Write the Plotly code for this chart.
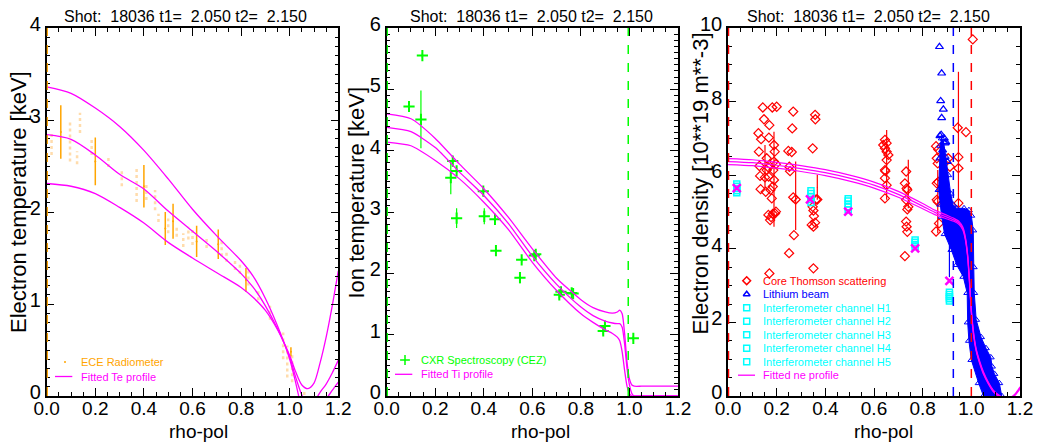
import plotly.graph_objects as go

# ------------------------------------------------------------------ data
TITLE_TEXT = "Shot:  18036 t1=  2.050 t2=  2.150"
X_TITLE = "rho-pol"
Y_TITLES = ["Electron temperature [keV]", "Ion temperature [keV]",
            "Electron density [10**19 m**-3]"]
X_TICKS = [0.0, 0.2, 0.4, 0.6, 0.8, 1.0, 1.2]
X_TICK_LABELS = ["0.0", "0.2", "0.4", "0.6", "0.8", "1.0", "1.2"]
Y1_TICKS = [0, 1, 2, 3, 4]
Y2_TICKS = [0, 1, 2, 3, 4, 5, 6]
Y3_TICKS = [0, 2, 4, 6, 8, 10]

# --- Panel 1 : electron temperature (ECE)
te_rho = [0.0, 0.1, 0.2, 0.3, 0.4, 0.5, 0.6, 0.7, 0.8, 0.85, 0.9, 0.95, 1.0,
          1.025, 1.05, 1.075, 1.1, 1.125, 1.15, 1.175, 1.2]
te_upper = [3.36, 3.29, 3.13, 2.93, 2.67, 2.36, 2.03, 1.74, 1.47, 1.30, 1.06, 0.76, 0.40,
            0.14, -0.15, -0.36, -0.44, -0.32, -0.04, 0.06, 0.15]
te_fit = [2.84, 2.79, 2.62, 2.41, 2.25, 2.01, 1.79, 1.57, 1.33, 1.18, 0.98, 0.73, 0.42,
          0.20, 0.01, -0.10, -0.06, 0.04, 0.13, 0.25, 0.39]
te_lower = [2.31, 2.28, 2.20, 2.05, 1.88, 1.67, 1.50, 1.34, 1.18, 1.07, 0.93, 0.72, 0.44,
            0.26, 0.12, 0.08, 0.14, 0.36, 0.64, 0.98, 1.36]

ece_rho = [0.058, 0.20, 0.40, 0.488, 0.52, 0.617, 0.706, 0.82, 1.005]
ece_te = [2.87, 2.55, 2.28, 1.82, 1.90, 1.68, 1.65, 1.26, 0.48]
ece_err = [0.29, 0.26, 0.23, 0.18, 0.19, 0.17, 0.16, 0.13, 0.05]

ece_cloud_rho = [0.02, 0.096, 0.125, 0.137, 0.185, 0.254, 0.309, 0.37, 0.41, 0.446, 0.46,
                 0.50, 0.535, 0.562, 0.583, 0.60, 0.658, 0.72, 0.74, 0.775, 0.795, 0.83,
                 0.871, 0.919, 0.973, 0.99, 1.01, 1.06]
ece_cloud_lo = [2.62, 2.55, 2.52, 2.86, 2.62, 2.49, 2.28, 2.11, 2.13, 2.02, 1.89,
                1.77, 1.73, 1.62, 1.70, 1.64, 1.61, 1.52, 1.46, 1.37, 1.33, 1.20,
                1.04, 0.83, 0.40, 0.20, 0.15, 0.01]
ece_cloud_hi = [2.88, 3.00, 2.66, 3.08, 2.80, 2.62, 2.46, 2.48, 2.31, 2.24, 1.98,
                1.93, 1.84, 1.77, 1.84, 1.81, 1.72, 1.70, 1.57, 1.50, 1.43, 1.39,
                1.15, 0.98, 0.69, 0.55, 0.45, 0.06]
ece_sep = [0.0]

# --- Panel 2 : ion temperature (CEZ)
ti_rho = [0.0, 0.1, 0.2, 0.3, 0.4, 0.5, 0.6, 0.7, 0.8, 0.85, 0.9, 0.93, 0.95, 0.96,
          0.97, 0.98, 0.99, 1.0, 1.01, 1.02, 1.05, 1.1, 1.2]
ti_upper = [4.60, 4.52, 4.20, 3.78, 3.38, 2.92, 2.40, 1.92, 1.57, 1.44, 1.37, 1.35, 1.37,
            1.40, 1.34, 1.02, 0.55, 0.28, 0.18, 0.16, 0.16, 0.16, 0.16]
ti_fit = [4.38, 4.31, 4.05, 3.65, 3.27, 2.82, 2.28, 1.82, 1.45, 1.31, 1.22, 1.19, 1.18,
          1.18, 1.12, 0.85, 0.45, 0.18, 0.04, 0.0, 0.0, 0.0, 0.0]
ti_lower = [4.14, 4.08, 3.84, 3.54, 3.16, 2.72, 2.18, 1.72, 1.34, 1.20, 1.08, 1.02, 0.96,
            0.90, 0.72, 0.42, 0.16, 0.04, 0.0, 0.0, 0.0, 0.0, 0.0]

cez_rho = [0.092, 0.147, 0.141, 0.272, 0.264, 0.288, 0.288, 0.398, 0.402, 0.446, 0.450,
           0.556, 0.549, 0.608, 0.614, 0.711, 0.718, 0.762, 0.768, 0.899, 0.892, 1.016]
cez_ti = [4.72, 5.55, 4.51, 3.83, 3.56, 3.67, 2.90, 3.34, 2.93, 2.88, 2.37,
          2.22, 1.93, 2.29, 2.31, 1.65, 1.70, 1.68, 1.67, 1.14, 1.06, 0.94]
cez_err = [0.04, 0.04, 0.47, 0.05, 0.27, 0.04, 0.16, 0.04, 0.13, 0.03, 0.03,
           0.04, 0.09, 0.05, 0.05, 0.06, 0.04, 0.05, 0.04, 0.05, 0.06, 0.04]
cez_sep = [0.0, 0.995]

# --- Panel 3 : electron density
ne_rho = [0.0, 0.1, 0.2, 0.3, 0.4, 0.5, 0.6, 0.7, 0.8, 0.85, 0.9, 0.93, 0.95, 0.965,
          0.975, 0.985, 0.993, 1.0, 1.01, 1.02, 1.035, 1.05, 1.07, 1.09, 1.11, 1.13,
          1.15, 1.17, 1.185, 1.2]
ne_upper = [6.45, 6.42, 6.35, 6.26, 6.15, 6.00, 5.81, 5.56, 5.23, 5.05, 4.91, 4.82, 4.74,
            4.59, 4.34, 3.84, 3.09, 2.34, 1.69, 1.28, 0.93, 0.65, 0.37, 0.16, 0.04, -0.04,
            -0.06, 0.0, 0.10, 0.25]
ne_fit = [6.37, 6.34, 6.27, 6.18, 6.07, 5.92, 5.73, 5.48, 5.16, 4.99, 4.86, 4.78, 4.70,
          4.55, 4.30, 3.80, 3.05, 2.30, 1.65, 1.25, 0.90, 0.62, 0.35, 0.14, 0.02, -0.06,
          -0.08, -0.02, 0.08, 0.22]
ne_lower = [6.29, 6.26, 6.19, 6.10, 5.99, 5.84, 5.65, 5.40, 5.09, 4.93, 4.81, 4.74, 4.66,
            4.51, 4.26, 3.76, 3.01, 2.26, 1.61, 1.22, 0.87, 0.59, 0.33, 0.12, 0.0, -0.08,
            -0.10, -0.04, 0.06, 0.19]

ts_rho = [0.125, 0.136, 0.143, 0.148, 0.127, 0.129, 0.132, 0.134, 0.155, 0.159, 0.166,
          0.167, 0.168, 0.170, 0.166, 0.173, 0.170, 0.182, 0.200, 0.175, 0.180, 0.184,
          0.186, 0.189, 0.192, 0.189, 0.193, 0.184, 0.177, 0.189, 0.197, 0.159, 0.152,
          0.197,
          0.248, 0.262, 0.252, 0.255, 0.268, 0.264, 0.268, 0.278, 0.271, 0.251,
          0.348, 0.358, 0.359, 0.348, 0.351, 0.353, 0.344, 0.351, 0.358, 0.362, 0.367,
          0.351,
          0.638, 0.645, 0.652, 0.645, 0.652, 0.659, 0.652, 0.645, 0.647, 0.645, 0.652,
          0.645,
          0.732, 0.727, 0.734, 0.737, 0.732, 0.741, 0.737, 0.732, 0.734, 0.737, 0.727,
          0.855, 0.864, 0.858, 0.862, 0.864, 0.858, 0.862, 0.855, 0.867, 0.858,
          0.905, 0.912, 0.944, 0.947, 0.947, 0.947, 0.978, 1.006]
ts_ne = [7.14, 6.98, 7.84, 7.52, 6.64, 6.25, 5.98, 5.62, 5.55, 6.46, 6.21,
         5.96, 7.02, 7.36, 4.92, 4.78, 3.33, 7.84, 7.86, 5.60, 5.37, 5.69,
         6.14, 5.87, 6.64, 6.82, 4.96, 4.95, 4.86, 6.37, 6.30, 6.14, 5.94,
         5.01,
         6.66, 6.63, 6.23, 6.11, 7.73, 7.27, 5.40, 5.34, 4.37, 3.88,
         6.73, 7.64, 7.52, 5.14, 5.04, 4.89, 4.65, 4.60, 4.71, 5.34, 5.34,
         3.47,
         6.82, 6.96, 6.87, 6.73, 6.64, 6.55, 6.41, 6.14, 6.11, 5.92, 5.73,
         5.37,
         6.10, 5.78, 5.64, 5.60, 5.33, 5.14, 5.07, 4.74, 4.60, 4.46, 3.80,
         6.79, 6.70, 6.46, 6.32, 5.82, 5.33, 5.28, 4.47, 4.69, 5.78,
         6.46, 6.23, 7.29, 6.49, 6.19, 5.24, 7.17, 9.69]
ts_bar_rho = [0.152, 0.189, 0.278, 0.367, 0.652, 0.741, 0.862, 0.947]
ts_bar_ne = [6.24, 5.89, 5.44, 5.67, 6.28, 5.76, 5.28, 6.21]
ts_bar_err = [0.58, 1.29, 0.93, 0.34, 0.95, 0.66, 0.86, 2.60]

li_rho = [0.869, 0.878, 0.874, 0.885, 0.878, 0.871, 0.876, 0.882, 0.892, 0.871, 0.901,
          0.889, 0.895]
li_ne = [9.49, 8.77, 8.02, 7.79, 7.56, 7.07, 7.10, 6.68, 6.87, 6.46, 6.37, 7.00, 6.90]
li_top_rho = [0.866, 0.872, 0.878, 0.886, 0.895, 0.905, 0.915, 0.925, 0.94, 0.97, 0.99,
              1.0, 1.008, 1.01, 1.012, 1.02, 1.04, 1.06, 1.08, 1.085, 1.095, 1.115, 1.125]
li_top_ne = [5.6, 6.8, 7.0, 6.9, 6.5, 6.0, 5.5, 5.2, 5.1, 5.1, 5.05,
             4.9, 4.5, 3.5, 2.8, 2.07, 1.6, 1.3, 1.05, 0.8, 0.6, 0.35, 0.0]
li_bot_rho = [0.866, 0.872, 0.878, 0.89, 0.918, 0.94, 0.967, 0.983, 0.985, 0.99, 1.0,
              1.03, 1.05]
li_bot_ne = [5.6, 5.2, 4.87, 4.4, 3.97, 3.56, 3.24, 2.8, 2.0, 1.5, 0.98, 0.35, 0.0]
li_bar_rho = [0.91]
li_bar_ne = [3.69]
li_bar_err = [0.46]

ifr_names = ["Interferometer channel H1", "Interferometer channel H2",
             "Interferometer channel H3", "Interferometer channel H4",
             "Interferometer channel H5"]
ifr_rho = [0.036, 0.341, 0.494, 0.769, 0.910]
ifr_ne = [[5.52, 5.58, 5.64, 5.70, 5.76],
          [5.26, 5.34, 5.42, 5.50, 5.58],
          [5.06, 5.14, 5.22, 5.30, 5.36],
          [4.06, 4.12, 4.18, 4.24],
          [2.58, 2.64, 2.70, 2.76, 2.82]]
ifr_x_rho = [0.036, 0.337, 0.494, 0.769, 0.910]
ifr_x_ne = [5.65, 5.34, 5.01, 4.01, 3.13]
ne_sep_red = [0.0, 1.0]
ne_sep_blue = [0.926]

# ------------------------------------------------------------------ style / layout
FONT = "Liberation Sans, Arial, Helvetica, sans-serif"
MAGENTA, ORANGE, GREEN = "#ff00ff", "#ffa500", "#00ff00"
RED, BLUE, CYAN = "#ff0000", "#0000ff", "#00ffff"
W, H = 1038, 444
PANEL_X = [(46.7, 338.3), (386.7, 678.0), (728.0, 1020.0)]   # pixel box of each panel
PANEL_Y = (28.0, 396.0)


def nb(s):
    return s.replace("  ", " \u00a0")


fig = go.Figure()


def ax(p):
    return ("x" if p == 1 else f"x{p}"), ("y" if p == 1 else f"y{p}")


def add(p, **kw):
    xa, ya = ax(p)
    fig.add_trace(go.Scatter(xaxis=xa, yaxis=ya, showlegend=False, hoverinfo="skip", **kw))


def segs(xs, lo, hi):
    X, Y = [], []
    for x, a, b in zip(xs, lo, hi):
        X += [x, x, None]
        Y += [a, b, None]
    return X, Y


# Panel 1
cx, cy = segs(ece_cloud_rho, ece_cloud_lo, ece_cloud_hi)
add(1, x=cx, y=cy, mode="lines", line=dict(color="rgba(255,185,90,0.5)", width=2.5, dash="dot"))
add(1, x=ece_rho, y=ece_te, mode="markers", marker=dict(size=2, color=ORANGE),
    error_y=dict(type="data", array=ece_err, color=ORANGE, thickness=1.5, width=0))
for curve in (te_upper, te_fit, te_lower):
    add(1, x=te_rho, y=curve, mode="lines", line=dict(color=MAGENTA, width=1.3, shape="spline", smoothing=0.8))

# Panel 2
add(2, x=cez_rho, y=cez_ti, mode="markers",
    marker=dict(symbol="cross-thin", size=8, line=dict(color=GREEN, width=2), color=GREEN),
    error_y=dict(type="data", array=cez_err, color=GREEN, thickness=1.2, width=0))
for curve in (ti_upper, ti_fit, ti_lower):
    add(2, x=ti_rho, y=curve, mode="lines", line=dict(color=MAGENTA, width=1.3, shape="spline", smoothing=0.6))

# Panel 3
add(3, x=ts_bar_rho, y=ts_bar_ne, mode="markers", marker=dict(size=1, color=RED),
    error_y=dict(type="data", array=ts_bar_err, color=RED, thickness=1.2, width=0))
add(3, x=ts_rho, y=ts_ne, mode="markers",
    marker=dict(symbol="diamond-open", size=7, color=RED, line=dict(width=1.2)))
add(3, x=li_top_rho + li_bot_rho[::-1], y=li_top_ne + li_bot_ne[::-1], mode="lines+markers",
    fill="toself", fillcolor=BLUE, line=dict(color=BLUE, width=1),
    marker=dict(symbol="triangle-up-open", size=6, color=BLUE))
add(3, x=li_rho, y=li_ne, mode="markers",
    marker=dict(symbol="triangle-up-open", size=7, color=BLUE, line=dict(width=1.2)))
add(3, x=li_bar_rho, y=li_bar_ne, mode="markers", marker=dict(size=1, color=BLUE),
    error_y=dict(type="data", array=li_bar_err, color=BLUE, thickness=1.2, width=0))
for r, vals in zip(ifr_rho, ifr_ne):
    add(3, x=[r] * len(vals), y=vals, mode="markers",
        marker=dict(symbol="square-open", size=6, color=CYAN, line=dict(width=1.5)))
for curve in (ne_upper, ne_fit, ne_lower):
    add(3, x=ne_rho, y=curve, mode="lines", line=dict(color=MAGENTA, width=1.2, shape="spline", smoothing=0.6))
add(3, x=ifr_x_rho, y=ifr_x_ne, mode="markers",
    marker=dict(symbol="x-thin", size=8, line=dict(color=MAGENTA, width=2.5), color=MAGENTA))

# vertical dashed marker lines
shapes = []
for p, xs, col, ymax in [(1, ece_sep, ORANGE, 4), (2, cez_sep, GREEN, 6),
                         (3, ne_sep_red, RED, 10), (3, ne_sep_blue, BLUE, 10)]:
    xa, ya = ax(p)
    for xv in xs:
        shapes.append(dict(type="line", xref=xa, yref=ya, x0=xv, x1=xv, y0=0, y1=ymax,
                           line=dict(color=col, width=1.5 if xv > 0 else 2.5, dash="dash"),
                           layer="above"))

# ------------------------------------------------------------------ axes
common = dict(showline=True, linecolor="black", linewidth=1.5, mirror="allticks",
              ticks="inside", ticklen=8, tickwidth=1, tickcolor="black",
              showgrid=False, zeroline=False, automargin=False, fixedrange=True,
              tickfont=dict(family=FONT, size=20, color="black"))
y_specs = [([0, 4], Y1_TICKS, 0.1), ([0, 6], Y2_TICKS, 0.1), ([0, 10], Y3_TICKS, 0.5)]
layout = dict(width=W, height=H, margin=dict(l=0, r=0, t=0, b=0),
              paper_bgcolor="white", plot_bgcolor="rgba(0,0,0,0)",
              showlegend=False, hovermode=False, shapes=shapes)
for i in range(3):
    p = i + 1
    xk = "xaxis" if p == 1 else f"xaxis{p}"
    yk = "yaxis" if p == 1 else f"yaxis{p}"
    x0, x1 = PANEL_X[i]
    layout[xk] = dict(common, domain=[x0 / W, x1 / W], range=[0, 1.2],
                      tickvals=X_TICKS, ticktext=X_TICK_LABELS, anchor=ax(p)[1],
                      ticklabelstandoff=-6,
                      tickfont=dict(family=FONT, size=19, color="black"),
                      minor=dict(dtick=0.05, tick0=0, ticks="inside", ticklen=4,
                                 tickwidth=1, tickcolor="black"))
    yr, yt, ym = y_specs[i]
    layout[yk] = dict(common, domain=[(H - PANEL_Y[1]) / H, (H - PANEL_Y[0]) / H],
                      range=yr, tickvals=yt, ticktext=[str(v) for v in yt], anchor=ax(p)[0],
                      ticklabelstandoff=0, ticklabelshift=-4,
                      minor=dict(dtick=ym, tick0=0, ticks="inside", ticklen=4,
                                 tickwidth=1, tickcolor="black"))
# overlay axis in pixel units for legends
layout["xaxis4"] = dict(domain=[0, 1], range=[0, W], visible=False, fixedrange=True, anchor="y4")
layout["yaxis4"] = dict(domain=[0, 1], range=[H, 0], visible=False, fixedrange=True, anchor="x4")

# ------------------------------------------------------------------ legends
LEG_FONT = 11
legends = [
    dict(sym_x=65, line=(55, 72.3), text_x=79, y0=362, dy=14.5,
         items=[("ECE Radiometer", ORANGE, "circle"), ("Fitted Te profile", MAGENTA, "line")]),
    dict(sym_x=405, line=(395, 412.3), text_x=419.3, y0=360, dy=14.3,
         items=[("CXR Spectroscopy (CEZ)", GREEN, "cross-thin"), ("Fitted Ti profile", MAGENTA, "line")]),
    dict(sym_x=746.7, line=(738, 755), text_x=761, y0=280.7, dy=13.5,
         items=[("Core Thomson scattering", RED, "diamond-open"),
                ("Lithium beam", BLUE, "triangle-up-open")]
               + [(n, CYAN, "square-open") for n in ifr_names]
               + [("Fitted ne profile", MAGENTA, "line")]),
]
annotations = []
for lg in legends:
    for k, (name, col, kind) in enumerate(lg["items"]):
        yy = lg["y0"] + k * lg["dy"]
        if kind == "line":
            fig.add_trace(go.Scatter(x=list(lg["line"]), y=[yy, yy], xaxis="x4", yaxis="y4",
                                     mode="lines", line=dict(color=col, width=1.3),
                                     showlegend=False, hoverinfo="skip"))
        else:
            size = {"circle": 2, "cross-thin": 7}.get(kind, 6)
            lw = 0 if kind == "circle" else 1.5
            fig.add_trace(go.Scatter(x=[lg["sym_x"]], y=[yy], xaxis="x4", yaxis="y4",
                                     mode="markers",
                                     marker=dict(symbol=kind, size=size, color=col,
                                                 line=dict(color=col, width=lw)),
                                     showlegend=False, hoverinfo="skip"))
        annotations.append(dict(x=lg["text_x"], y=yy, xref="x4", yref="y4", text=name,
                                showarrow=False, xanchor="left", yanchor="middle",
                                font=dict(family=FONT, size=LEG_FONT, color=col)))

# titles / axis titles
for cxp in (185, 531, 868):
    annotations.append(dict(x=cxp, y=16, xref="x4", yref="y4", text=nb(TITLE_TEXT),
                            showarrow=False, xanchor="center", yanchor="middle",
                            font=dict(family=FONT, size=16, color="black")))
for cxp in (198.7, 540, 883):
    annotations.append(dict(x=cxp, y=431, xref="x4", yref="y4", text=X_TITLE,
                            showarrow=False, xanchor="center", yanchor="middle",
                            font=dict(family=FONT, size=19, color="black")))
for (cxp, cyp), t in zip([(18.5, 202.5), (356, 192.5), (700, 183.5)], Y_TITLES):
    annotations.append(dict(x=cxp, y=cyp, xref="x4", yref="y4", text=t, textangle=-90,
                            showarrow=False, xanchor="center", yanchor="middle",
                            font=dict(family=FONT, size=22, color="black")))
layout["annotations"] = annotations

fig.update_layout(**layout)
fig.write_html("out.html", config={"displayModeBar": False},
               post_script="document.body.style.margin='0';document.body.style.overflow='hidden';")
